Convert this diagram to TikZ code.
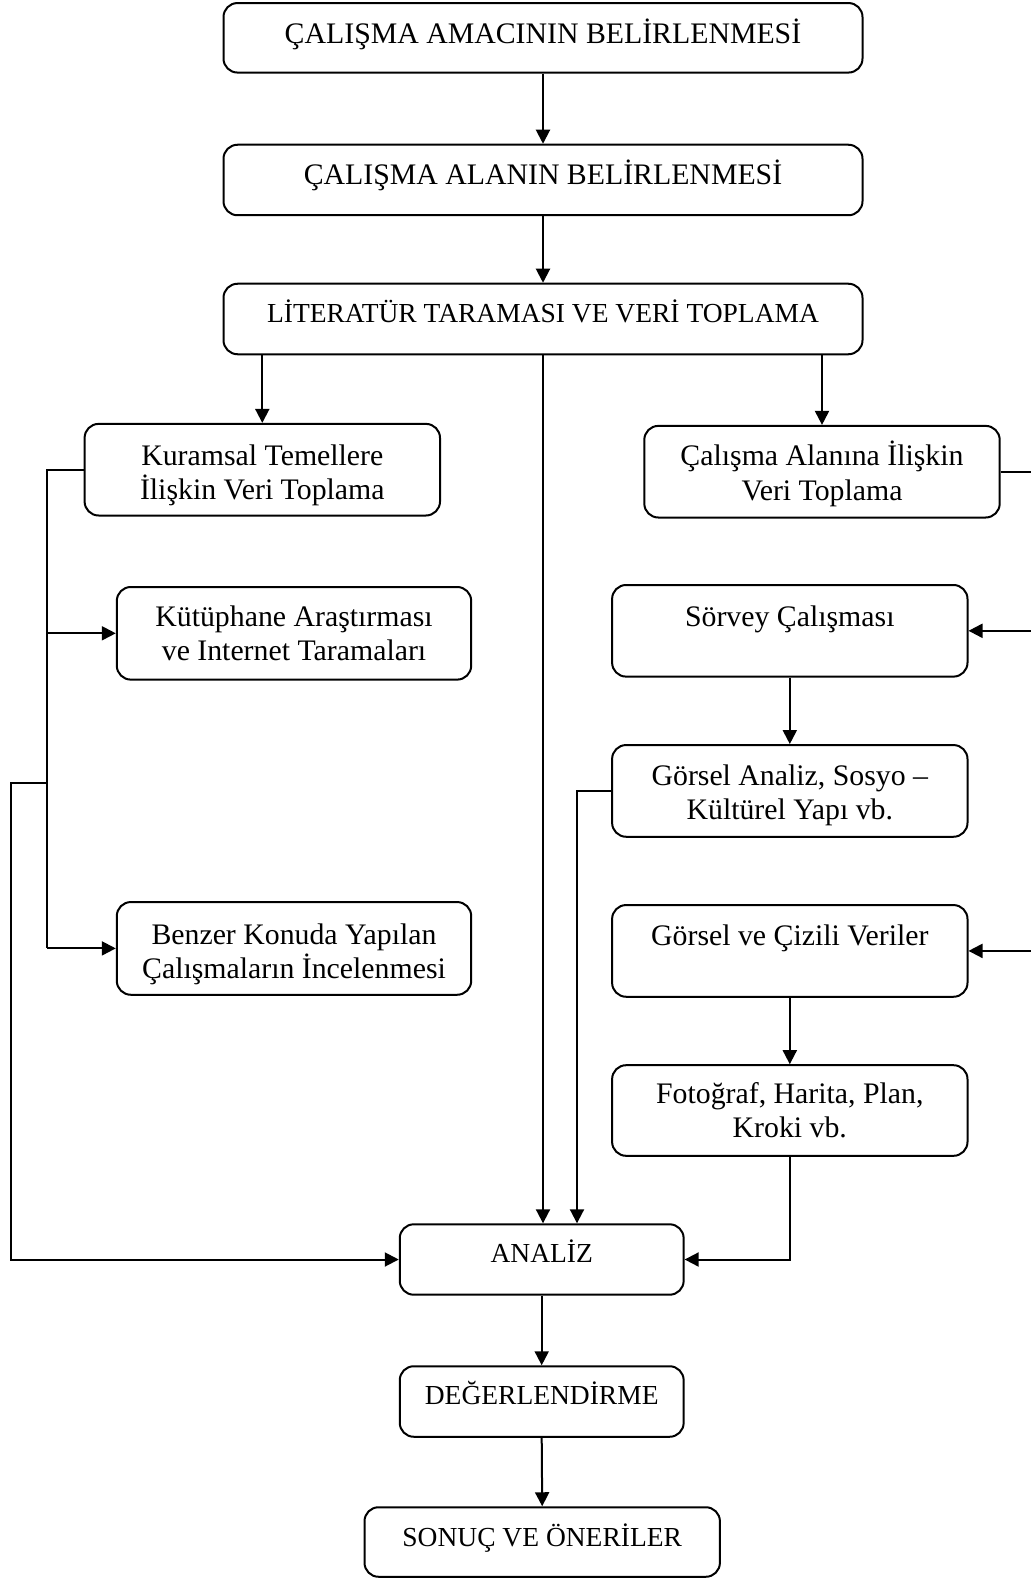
\documentclass[tikz,border=0pt]{standalone}
\usepackage{fontspec}
\setmainfont{Liberation Serif}
\usetikzlibrary{arrows.meta}
\begin{document}
\begin{tikzpicture}[x=1pt,y=-1pt,
  box/.style={draw,line width=2pt,rounded corners=14pt,inner sep=0pt,align=center,
    font=\fontsize{29.8}{34.2}\selectfont},
  sbox/.style={box,font=\fontsize{27.5}{32}\selectfont},
  line/.style={line width=2pt},
  arr/.style={line width=2pt,-{Triangle[length=14pt,width=14pt]}}]
\useasboundingbox (0,0) rectangle (1030,1578);
% top boxes
\node[box,minimum width=639pt,minimum height=69.5pt,text height=20pt,text depth=9.2pt] (amac) at (543,37.8) {ÇALIŞMA AMACININ BELİRLENMESİ};
\node[box,minimum width=639pt,minimum height=70.5pt,text height=20pt,text depth=10.2pt] (alan) at (543,180) {ÇALIŞMA ALANIN BELİRLENMESİ};
\node[sbox,minimum width=639pt,minimum height=70.5pt,text height=20pt,text depth=13.8pt] (lit) at (543,319) {LİTERATÜR TARAMASI VE VERİ TOPLAMA};
% left column
\node[box,minimum width=355.4pt,minimum height=91.6pt] (kur) at (262.3,469.7) {\rule{0pt}{32pt}Kuramsal Temellere\\İlişkin Veri Toplama};
\node[box,minimum width=354.4pt,minimum height=92.6pt] (kut) at (294,633.3) {Kütüphane Araştırması\\ve Internet Taramaları};
\node[box,minimum width=354.4pt,minimum height=92.7pt] (ben) at (294,948.4) {\rule{0pt}{32pt}Benzer Konuda Yapılan\\Çalışmaların İncelenmesi};
% right column
\node[box,minimum width=355.4pt,minimum height=91.6pt] (cal) at (822,471.7) {\rule{0pt}{29pt}Çalışma Alanına İlişkin\\Veri Toplama};
\node[box,minimum width=355.4pt,minimum height=91.6pt,text height=10pt,text depth=19pt] (sor) at (789.8,630.8) {Sörvey Çalışması};
\node[box,minimum width=355.4pt,minimum height=91.7pt] (gan) at (789.8,790.9) {\rule{0pt}{30pt}Görsel Analiz, Sosyo –\\Kültürel Yapı vb.};
\node[box,minimum width=355.4pt,minimum height=91.7pt,text height=10pt,text depth=20pt] (gcv) at (789.8,950.9) {Görsel ve Çizili Veriler};
\node[box,minimum width=355.4pt,minimum height=90.6pt] (fot) at (789.8,1110.5) {Fotoğraf, Harita, Plan,\\Kroki vb.};
% bottom boxes
\node[sbox,minimum width=283.9pt,minimum height=70.4pt,text height=20pt,text depth=13.8pt] (ana) at (541.7,1259.5) {ANALİZ};
\node[sbox,minimum width=283.9pt,minimum height=70.5pt,text height=20pt,text depth=13.8pt] (deg) at (541.7,1401.5) {DEĞERLENDİRME};
\node[sbox,minimum width=355.4pt,minimum height=69.5pt,text height=20pt,text depth=10.8pt] (son) at (542.2,1542) {SONUÇ VE ÖNERİLER};
% coordinates
\coordinate (lt) at (47.3,470);
\coordinate (fl) at (11.1,783.3);
\coordinate (gl) at (577,791);
\coordinate (re) at (1034,471.7);
% main spine
\draw[arr] (amac.south) -- (alan.north);
\draw[arr] (alan.south) -- (lit.north);
\draw[arr] (lit.south) -- (ana.north -| lit.south);
\draw[arr] (ana.south) -- (deg.north);
\draw[arr] (deg.south) -- (son.north);
% branches from literature
\draw[arr] (lit.south -| kur.north) -- (kur.north);
\draw[arr] (lit.south -| cal.north) -- (cal.north);
% left side
\draw[line] (kur.west) -- (lt |- kur.west) -- (lt |- ben.west);
\draw[arr] (lt |- kut.west) -- (kut.west);
\draw[arr] (lt |- ben.west) -- (ben.west);
\draw[arr] (lt |- fl) -- (fl) -- (fl |- ana.west) -- (ana.west);
% right side
\draw[arr] (sor.south) -- (gan.north);
\draw[arr] (gan.west) -- (gl |- gan.west) -- (gl |- ana.north);
\draw[arr] (gcv.south) -- (fot.north);
\draw[arr] (fot.south) -- (fot.south |- ana.east) -- (ana.east);
\draw[line] (cal.east) -- (re) -- (re |- gcv.east);
\draw[arr] (re |- sor.east) -- (sor.east);
\draw[arr] (re |- gcv.east) -- (gcv.east);
\end{tikzpicture}
\end{document}
